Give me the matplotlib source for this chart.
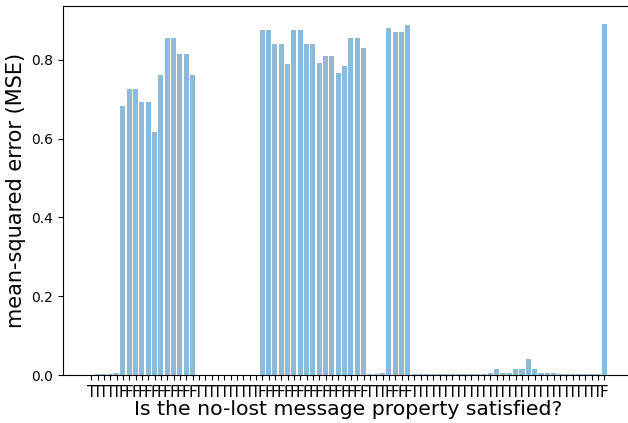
import matplotlib
matplotlib.use("Agg")
import matplotlib.pyplot as plt
import numpy as np

# property satisfied labels (T/F) per run
labels = (["T"] * 5 + ["F"] * 12 + ["T"] * 10 + ["F"] * 17 + ["T"] * 3
          + ["F"] * 4 + ["T"] * 30 + ["F"])

mse_start = [0.001, 0.002, 0.002, 0.002, 0.005]
mse_group1 = [0.684, 0.726, 0.726, 0.692, 0.692, 0.617, 0.761, 0.855, 0.855,
              0.815, 0.815, 0.762]
mse_gap1 = [0.001] * 10
mse_group2 = [0.875, 0.875, 0.841, 0.841, 0.789, 0.875, 0.875, 0.841, 0.841,
              0.793, 0.810, 0.810, 0.766, 0.784, 0.855, 0.855, 0.830]
mse_gap2 = [0.003, 0.003, 0.006]
mse_group3 = [0.881, 0.871, 0.871, 0.888]
mse_tail = [0.002, 0.003, 0.003, 0.004, 0.004, 0.004, 0.004, 0.003, 0.002, 0.002,
            0.002, 0.003, 0.005, 0.015, 0.005, 0.005, 0.015, 0.015, 0.040, 0.015,
            0.006, 0.006, 0.006, 0.004, 0.004, 0.004, 0.002, 0.004, 0.004, 0.004]
mse_last = [0.892]

mse = mse_start + mse_group1 + mse_gap1 + mse_group2 + mse_gap2 + mse_group3 + mse_tail + mse_last

fig = plt.figure(figsize=(6.28, 4.23), dpi=100)
# the reference figure is cut on the right, so the axes run past the edge
ax = fig.add_axes([0.100, 0.113, 0.9076, 0.873])
x = np.arange(len(mse))
ax.bar(x, mse, color="C0", alpha=0.5)
ax.set_xticks(x)
ax.set_xticklabels(labels, fontsize=11)
ax.tick_params(axis="y", labelsize=10)
ax.set_ylabel("mean-squared error (MSE)", fontsize=15)
ax.set_xlabel("Is the no-lost message property satisfied?", fontsize=14.7, labelpad=0)
fig.savefig("out.png", dpi=100)
